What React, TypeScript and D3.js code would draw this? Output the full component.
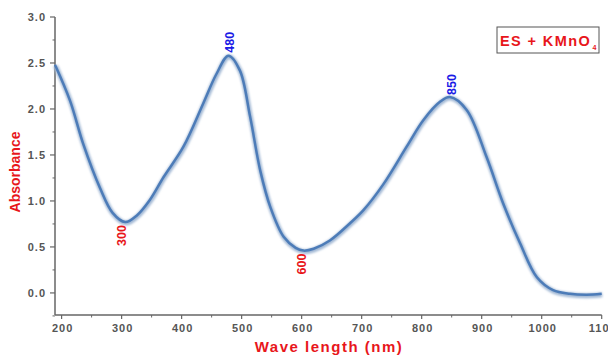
import React from "react";
import * as d3 from "d3";

const wavelengths = [189, 214, 236, 264, 285, 306, 325, 347, 370, 403, 436, 458, 478, 497, 514, 531, 548, 570, 590, 603, 620, 647, 681, 703, 736, 775, 803, 831, 847, 875, 908, 936, 964, 992, 1019, 1047, 1075, 1100];
const absorbance = [2.48, 2.09, 1.62, 1.14, 0.87, 0.77, 0.84, 1.01, 1.26, 1.59, 2.06, 2.38, 2.58, 2.42, 1.92, 1.33, 0.93, 0.61, 0.49, 0.46, 0.48, 0.57, 0.76, 0.9, 1.18, 1.59, 1.88, 2.08, 2.13, 1.99, 1.48, 0.97, 0.54, 0.17, 0.03, -0.01, -0.02, -0.01];

const peakLabels = ["300", "480", "600", "850"];
const peakX = [300, 480, 600, 850];
const peakY = [0.76, 2.59, 0.45, 2.13];
const peakKind = ["min", "max", "min", "max"];

const xTicks = [200, 300, 400, 500, 600, 700, 800, 900, 1000, 1100];
const xMinor = [250, 350, 450, 550, 650, 750, 850, 950, 1050];
const yTicks = [0, 0.5, 1.0, 1.5, 2.0, 2.5, 3.0];
const yMinor = [-0.25, 0.25, 0.75, 1.25, 1.75, 2.25, 2.75];

const W = 608, H = 356;

export default function App() {
  const x = d3.scaleLinear().domain([189, 1100]).range([55, 601.7]);
  const y = d3.scaleLinear().domain([-0.24, 3.0]).range([315, 17]);
  const pts = wavelengths.map((w, i) => [w, absorbance[i]] as [number, number]);
  const line = d3.line<[number, number]>().x(d => x(d[0])).y(d => y(d[1])).curve(d3.curveCatmullRom.alpha(0.5));
  const path = line(pts) || "";
  const axisColor = "#666";
  const tickFont = { fontFamily: "Liberation Sans, Arial, sans-serif", fontSize: 11, fill: "#555", fontWeight: 700 as const, letterSpacing: "1px" };
  return (
    <div style={{ position: "absolute", left: 0, top: 0 }}>
      <svg width={W} height={H} style={{ display: "block" }}>
        <defs>
          <filter id="blur" x="-5%" y="-5%" width="110%" height="110%">
            <feGaussianBlur stdDeviation="1.2" />
          </filter>
        </defs>
        <rect x={0} y={0} width={W} height={H} fill="#fff" />
        <line x1={55} x2={55} y1={y(3.0)} y2={315} stroke={axisColor} strokeWidth={1.5} />
        <line x1={55} x2={601.7} y1={315} y2={315} stroke={axisColor} strokeWidth={1.5} />
        {yTicks.map(t => (
          <g key={"y" + t}>
            <line x1={50} x2={55} y1={y(t)} y2={y(t)} stroke={axisColor} strokeWidth={1.2} />
            <text x={46} y={y(t) + 4} textAnchor="end" {...tickFont}>{t.toFixed(1)}</text>
          </g>
        ))}
        {yMinor.map(t => (
          <line key={"ym" + t} x1={52.5} x2={55} y1={y(t)} y2={y(t)} stroke={axisColor} strokeWidth={1} />
        ))}
        {xTicks.map(t => (
          <g key={"x" + t}>
            <line x1={x(t)} x2={x(t)} y1={315} y2={319} stroke={axisColor} strokeWidth={1.2} />
            <text x={x(t) + 1} y={332} textAnchor="middle" {...tickFont}>{t}</text>
          </g>
        ))}
        {xMinor.map(t => (
          <line key={"xm" + t} x1={x(t)} x2={x(t)} y1={315} y2={317.5} stroke={axisColor} strokeWidth={1} />
        ))}
        <path d={path} fill="none" stroke="#a3b9d5" strokeWidth={5} filter="url(#blur)" transform="translate(0.5,1)" />
        <path d={path} fill="none" stroke="#4d7cb8" strokeWidth={2.5} strokeLinejoin="round" />
        {peakLabels.map((lab, i) => {
          const px = x(peakX[i]);
          const py = y(peakY[i]);
          const isMax = peakKind[i] === "max";
          return (
            <text key={lab}
              transform={`translate(${px + 4.5},${isMax ? py - 2 : py + 2}) rotate(-90)`}
              textAnchor={isMax ? "start" : "end"}
              fontFamily="Liberation Sans, Arial, sans-serif" fontWeight={700} fontSize={12.5}
              fill={isMax ? "#1a1ae6" : "#e8161b"}>{lab}</text>
          );
        })}
        <text transform={`translate(20,172) rotate(-90)`} textAnchor="middle"
          fontFamily="Liberation Sans, Arial, sans-serif" fontWeight={700} fontSize={14} fill="#e8161b">Absorbance</text>
        <text x={329} y={352} textAnchor="middle" fontFamily="Liberation Sans, Arial, sans-serif"
          fontWeight={700} fontSize={15} fill="#e8161b" letterSpacing="1.5px">Wave length (nm)</text>
        <rect x={497} y={27} width={102} height={26} fill="#fff" stroke="#555" strokeWidth={1} />
        <text x={500} y={46} fontFamily="Liberation Sans, Arial, sans-serif" fontWeight={700} fontSize={14.5}
          fill="#e8161b" letterSpacing="1.4px">ES + KMnO</text>
        <text x={592.5} y={50} fontFamily="Liberation Sans, Arial, sans-serif" fontWeight={700} fontSize={7} fill="#e8161b">4</text>
      </svg>
    </div>
  );
}
